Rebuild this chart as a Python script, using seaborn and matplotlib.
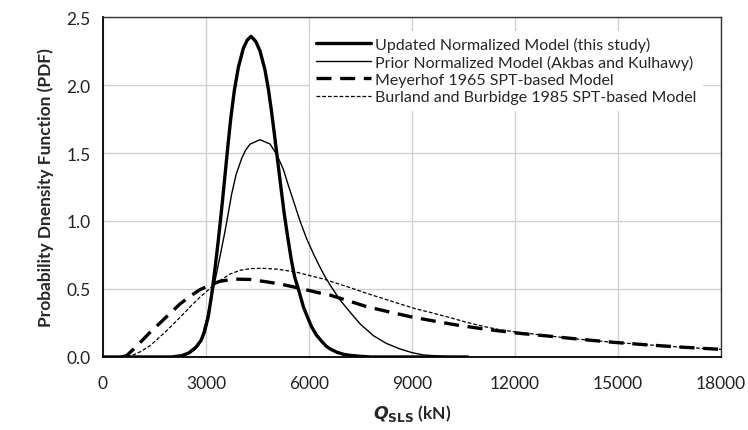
import matplotlib
matplotlib.use("Agg")
import matplotlib.pyplot as plt
import seaborn as sns

# ---- data (Q in kN, PDF values) ----
updated_x = [0, 2000, 2300, 2500, 2700, 2850, 2950, 3068, 3165, 3262, 3350, 3427, 3500, 3570,
             3640, 3719, 3825, 3942, 4087, 4200, 4311, 4450, 4573, 4718, 4816, 4900, 4981,
             5078, 5185, 5280, 5380, 5480, 5580, 5689, 5835, 5960, 6078, 6220, 6369, 6500,
             6612, 6800, 7000, 7194, 7500, 7800, 10630]
updated_y = [0, 0.0, 0.01, 0.03, 0.07, 0.12, 0.18, 0.30, 0.46, 0.65, 0.84, 1.02, 1.20, 1.38,
             1.56, 1.75, 1.96, 2.13, 2.27, 2.33, 2.358, 2.32, 2.25, 2.11, 1.97, 1.82, 1.66,
             1.46, 1.24, 1.05, 0.88, 0.72, 0.59, 0.50, 0.37, 0.29, 0.22, 0.16, 0.115, 0.08,
             0.06, 0.036, 0.02, 0.012, 0.005, 0.0, 0.0]

prior_x = [0, 2000, 2300, 2485, 2650, 2777, 2874, 3019, 3213, 3408, 3550, 3650, 3748, 3874,
           4039, 4150, 4282, 4573, 4864, 5058, 5252, 5400, 5570, 5738, 5930, 6126, 6300, 6466,
           6612, 6900, 7194, 7500, 7874, 8250, 8650, 9000, 9330, 10000, 10630]
prior_y = [0, 0.0, 0.008, 0.022, 0.05, 0.083, 0.14, 0.28, 0.50, 0.74, 0.92, 1.06, 1.20, 1.34,
           1.46, 1.52, 1.565, 1.598, 1.566, 1.49, 1.38, 1.26, 1.13, 1.0, 0.87, 0.76, 0.67, 0.59,
           0.53, 0.42, 0.33, 0.24, 0.157, 0.10, 0.059, 0.032, 0.015, 0.003, 0.0]

meyerhof_x = [550, 690, 900, 1174, 1400, 1660, 1950, 2243, 2550, 2825, 3117, 3400, 3796, 4282,
              4700, 5155, 5738, 6320, 6612, 7000, 7680, 8359, 8942, 9621, 10302, 10980, 11467,
              12200, 12923, 13900, 14864, 15800, 16806, 18000]
meyerhof_y = [0.0, 0.01, 0.06, 0.13, 0.19, 0.25, 0.32, 0.39, 0.45, 0.495, 0.53, 0.556, 0.573,
              0.57, 0.555, 0.537, 0.505, 0.47, 0.455, 0.425, 0.37, 0.33, 0.297, 0.265, 0.235,
              0.21, 0.194, 0.172, 0.155, 0.13, 0.108, 0.09, 0.073, 0.056]

burland_x = [700, 883, 1100, 1369, 1600, 1854, 2100, 2340, 2600, 2825, 3117, 3400, 3700, 4000,
             4300, 4670, 5100, 5641, 6000, 6417, 6709, 7194, 7680, 8150, 8650, 9100, 9621,
             10100, 10592, 11100, 11563, 12000, 12900, 13893, 14864, 15836, 16806, 18000]
burland_y = [0.0, 0.015, 0.04, 0.083, 0.135, 0.193, 0.255, 0.316, 0.385, 0.44, 0.505, 0.56,
             0.61, 0.638, 0.65, 0.652, 0.645, 0.623, 0.60, 0.574, 0.55, 0.51, 0.468, 0.43,
             0.39, 0.355, 0.322, 0.29, 0.255, 0.224, 0.20, 0.185, 0.157, 0.13, 0.108, 0.09,
             0.073, 0.056]

labels = ["Updated Normalized Model (this study)",
          "Prior Normalized Model (Akbas and Kulhawy)",
          "Meyerhof 1965 SPT-based Model",
          "Burland and Burbidge 1985 SPT-based Model"]

x_ticks = [0, 3000, 6000, 9000, 12000, 15000, 18000]
y_ticks = [0.0, 0.5, 1.0, 1.5, 2.0, 2.5]

sns.set_style("white")
plt.rcParams["font.family"] = ["Lato", "DejaVu Sans"]

fig = plt.figure(figsize=(7.48, 4.31), dpi=100)
ax = fig.add_axes([0.1377, 0.1694, 0.8263, 0.7888])

sns.lineplot(x=updated_x, y=updated_y, ax=ax, color="black", lw=2.4, sort=False,
             estimator=None, label=labels[0], zorder=5)
sns.lineplot(x=prior_x, y=prior_y, ax=ax, color="black", lw=1.0, sort=False,
             estimator=None, label=labels[1], zorder=5)
sns.lineplot(x=meyerhof_x, y=meyerhof_y, ax=ax, color="black", lw=2.4, sort=False,
             estimator=None, label=labels[2], linestyle=(0, (4.5, 2.6)), zorder=5)
sns.lineplot(x=burland_x, y=burland_y, ax=ax, color="black", lw=0.9, sort=False,
             estimator=None, label=labels[3], linestyle=(0, (3, 1.6)), zorder=5)

ax.set_xlim(0, 18000)
ax.set_ylim(0, 2.5)
ax.set_xticks(x_ticks)
ax.set_xticklabels([str(v) for v in x_ticks])
ax.set_yticks(y_ticks)
ax.set_yticklabels([f"{v:.1f}" for v in y_ticks])
ax.grid(True, color="#d0d0d0", lw=1.0, zorder=0)
ax.set_axisbelow(True)

for s in ["left", "bottom"]:
    ax.spines[s].set_color("black")
    ax.spines[s].set_linewidth(1.3)
for s in ["top", "right"]:
    ax.spines[s].set_color("#333333")
    ax.spines[s].set_linewidth(1.0)

ax.tick_params(axis="both", which="both", direction="out", length=5, width=1.0,
               color="black", labelsize=12.5, labelcolor="#222222")
ax.tick_params(axis="x", pad=8)
ax.tick_params(axis="y", pad=4)
ax.tick_params(top=False, right=False)

ax.set_ylabel("Probability Dnensity Function (PDF)", fontsize=12.5, fontweight="bold",
              labelpad=9)
ax.set_xlabel(r"$\mathbfit{Q}_{\mathbf{SLS}}$ (kN)", fontsize=12.5, fontweight="bold",
              labelpad=8)

leg = ax.legend(loc="upper left", bbox_to_anchor=(0.335, 0.96), fontsize=11.5,
                frameon=True, facecolor="white", edgecolor="none", framealpha=1.0,
                handlelength=3.4, handletextpad=0.25, labelspacing=0.18,
                borderpad=0.4, borderaxespad=0.0)
leg.set_zorder(4)

fig.savefig("out.png", dpi=100)
